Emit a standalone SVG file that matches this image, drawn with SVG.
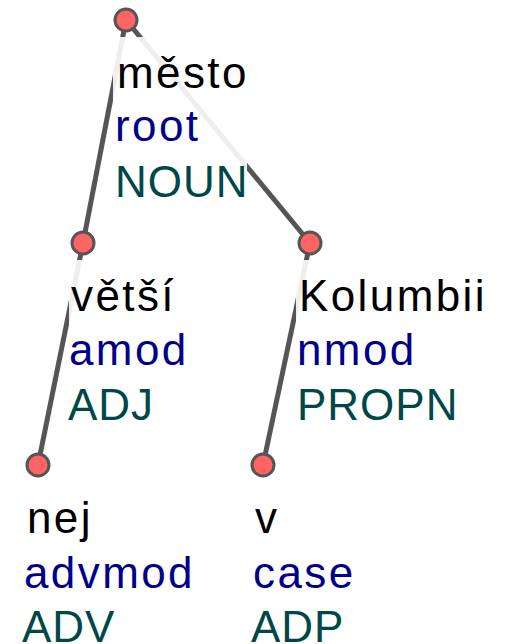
<svg xmlns="http://www.w3.org/2000/svg" width="511" height="644" viewBox="0 0 511 644">
<style>
.edge{stroke:#555;stroke-width:5;fill:none}
.bg{fill:#fff;fill-opacity:0.9}
.node circle{fill:#ff6464;stroke:#555;stroke-width:3}
text{font-family:"Liberation Sans",Arial,sans-serif;font-size:44px;letter-spacing:2.4px}
.form{fill:#000}
.deprel{fill:#00008b}
.upos{fill:#004848;letter-spacing:1px}
</style>
<rect width="511" height="644" fill="#fff"/>
<g id="connectors">
<line class="edge" x1="126" y1="20" x2="83" y2="243"/>
<line class="edge" x1="126" y1="20" x2="310" y2="243"/>
<line class="edge" x1="83" y1="243" x2="38" y2="465"/>
<line class="edge" x1="310" y1="243" x2="263" y2="465"/>
</g>
<g id="node-mesto" class="node">
<rect class="bg" x="113" y="37" width="134" height="168"/>
<circle cx="126" cy="20" r="11"/>
<text class="form" x="117" y="88">město</text>
<text class="deprel" x="115" y="141">root</text>
<text class="upos" x="115" y="197">NOUN</text>
</g>
<g id="node-vetsi" class="node">
<rect class="bg" x="69" y="260" width="122" height="168"/>
<circle cx="83" cy="243" r="11"/>
<text class="form" x="71" y="311">větší</text>
<text class="deprel" x="69" y="365">amod</text>
<text class="upos" x="68" y="420">ADJ</text>
</g>
<g id="node-kolumbii" class="node">
<rect class="bg" x="296" y="260" width="194" height="168"/>
<circle cx="310" cy="243" r="11"/>
<text class="form" x="299" y="311">Kolumbii</text>
<text class="deprel" x="297" y="365">nmod</text>
<text class="upos" x="297" y="420">PROPN</text>
</g>
<g id="node-nej" class="node">
<circle cx="38" cy="465" r="11"/>
<text class="form" x="27" y="533">nej</text>
<text class="deprel" x="24" y="588">advmod</text>
<text class="upos" x="22" y="642">ADV</text>
</g>
<g id="node-v" class="node">
<circle cx="263" cy="465" r="11"/>
<text class="form" x="255" y="533">v</text>
<text class="deprel" x="253" y="588">case</text>
<text class="upos" x="251" y="642">ADP</text>
</g>
</svg>
